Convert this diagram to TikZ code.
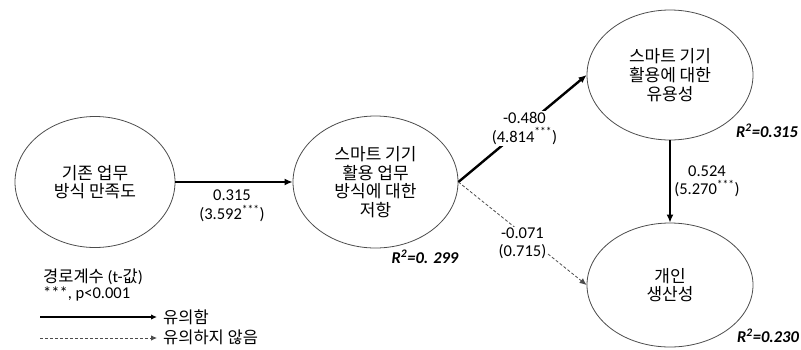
\documentclass[tikz,border=0pt]{standalone}
\usepackage{fontspec}
\setmainfont{Carlito}
\newfontfamily\kr{Noto Sans CJK KR}
\usetikzlibrary{shapes.geometric,arrows.meta}
\begin{document}
\begin{tikzpicture}[x=1pt,y=-1pt,
  construct/.style={ellipse,draw=black!70,line width=0.8pt,inner sep=0pt,align=center,
    font=\kr\fontsize{17}{18.7}\selectfont},
  sig/.style={line width=2.4pt,-{Latex[length=8pt,width=7pt]}},
  nsig/.style={line width=0.8pt,black!70,dash pattern=on 3pt off 2pt,-{Latex[length=7pt,width=6pt]}},
  lbl/.style={align=center,text=black,font=\fontsize{16.5}{18.5}\selectfont,inner sep=1pt},
  rsq/.style={font=\fontsize{16.5}{18.5}\selectfont\bfseries\itshape,inner sep=0pt},
  legtext/.style={anchor=west,inner sep=0pt,font=\fontsize{16.5}{18.5}\selectfont}]
\useasboundingbox (0,0) rectangle (801,349);
\node[construct,minimum width=160pt,minimum height=131pt] (e1) at (95,182) {기존 업무\\방식 만족도};
\node[construct,minimum width=165pt,minimum height=132pt] (e2) at (375.5,182) {스마트 기기\\활용 업무\\방식에 대한\\저항};
\node[construct,minimum width=166pt,minimum height=130pt] (e3) at (670,75) {스마트 기기\\활용에 대한\\유용성};
\node[construct,minimum width=166pt,minimum height=124pt] (e4) at (670,285) {개인\\생산성};

\draw[sig] (e1.east) -- (e2.west);
\node[lbl] (l1) at (232,206) {0.315\\(3.592\textsuperscript{***})};
\draw[sig] (e2.east) -- node[lbl,midway,fill=white,xshift=2pt] (l2) {-0.480\\(4.814\textsuperscript{***})} (e3.west);
\draw[nsig] (e2.east) -- node[lbl,midway,fill=white,yshift=-10pt] (l3) {-0.071\\(0.715)} (e4.west);
\draw[sig] (e3.south) -- (e4.north);
\node[lbl] (l4) at (707,181.5) {0.524\\(5.270\textsuperscript{***})};

\node[rsq] (r2) at (425,257) {R\textsuperscript{2}=0. 299};
\node[rsq] (r3) at (767,131) {R\textsuperscript{2}=0.315};
\node[rsq] (r4) at (768,336) {R\textsuperscript{2}=0.230};

\node[legtext] (g1) at (43,277) {{\kr 경로계수} (t-{\kr 값})};
\node[legtext] (g2) at (43,294) {***, p<0.001};
\coordinate (s1) at (40,317);
\coordinate (s2) at (157,317);
\coordinate (d1) at (40,338);
\coordinate (d2) at (157,338);
\draw[line width=2pt,-{Latex[length=6pt,width=5.5pt]}] (s1) -- (s2);
\draw[line width=0.8pt,black!70,dash pattern=on 3pt off 2pt,-{Latex[length=6pt,width=5.5pt]}] (d1) -- (d2);
\node[legtext,font=\kr\fontsize{16.5}{18.5}\selectfont] (g3) at (163,317) {유의함};
\node[legtext,font=\kr\fontsize{16.5}{18.5}\selectfont] (g4) at (163,337) {유의하지 않음};
\end{tikzpicture}
\end{document}
